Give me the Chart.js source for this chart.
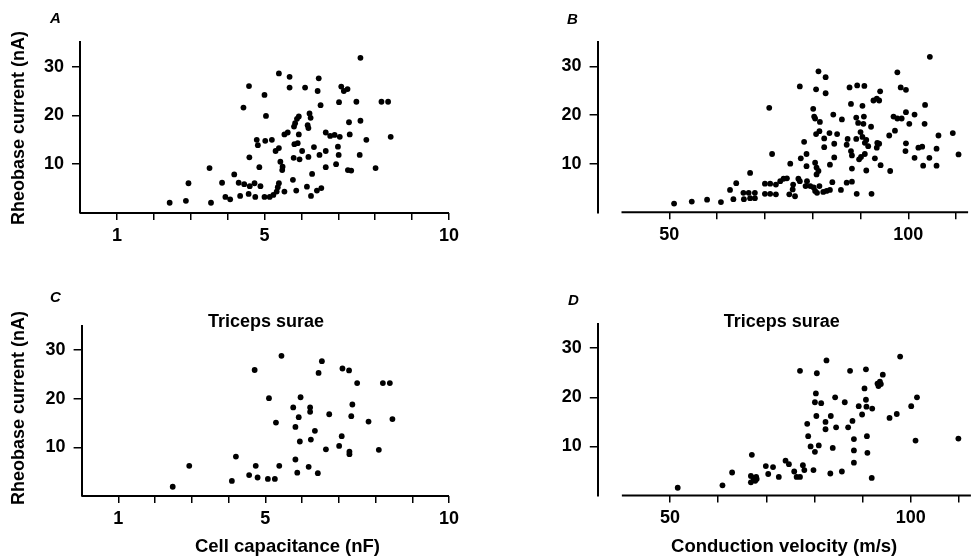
<!DOCTYPE html>
<html>
<head>
<meta charset="utf-8">
<title>Rheobase current</title>
<script src="https://cdn.jsdelivr.net/npm/chart.js@4.4.1/dist/chart.umd.min.js"></script>
<style>
  html, body { margin: 0; padding: 0; background: #fff; }
  #page {
    position: relative;
    width: 974px;
    height: 559px;
    overflow: hidden;
    font-family: "Liberation Sans", Arial, sans-serif;
    color: #000;
  }
  #page canvas { position: absolute; left: 0; top: 0; }
  .txt { position: absolute; white-space: nowrap; line-height: 1; font-weight: bold; }
</style>
</head>
<body>
<div id="page">
  <canvas id="chartA" width="974" height="559"></canvas>
  <canvas id="chartB" width="974" height="559"></canvas>
  <canvas id="chartC" width="974" height="559"></canvas>
  <canvas id="chartD" width="974" height="559"></canvas>
</div>

<script>
/* ================= DATA ================= */

// A: all cells, capacitance (nF) vs rheobase (nA)
const capA = [2.43, 2.87, 3.55, 2.94, 3.51, 3.85, 3.94, 4.07, 4.18, 4.3,
  4.45, 4.6, 4.34, 4.57, 4.59, 4.43, 4.58, 4.73, 4.75, 4.89,
  4.86, 4.79, 4.82, 5.0, 5.04, 5.02, 5.2, 5.0, 5.14, 5.24,
  5.33, 5.39, 5.36, 5.39, 5.68, 5.68, 5.3, 5.39, 5.43, 5.49,
  5.48, 5.54, 5.54, 5.63, 5.8, 5.83, 5.88, 5.93, 5.81, 5.9,
  5.79, 5.95, 5.77, 5.86, 7.6, 6.47, 6.1, 6.44, 7.08, 7.15,
  7.25, 6.52, 7.02, 7.49, 8.17, 8.35, 6.22, 6.25, 6.17, 6.19,
  5.93, 6.02, 6.19, 6.34, 6.49, 6.66, 6.66, 6.78, 6.9, 7.04,
  7.29, 7.6, 7.31, 7.76, 8.42, 6.99, 7.01, 7.58, 6.94, 6.66,
  7.26, 7.35, 8.01, 6.29, 6.15, 6.26, 6.42, 6.54];
const rheoA = [2.1, 2.5, 2.1, 6.1, 9.2, 6.2, 3.3, 2.8, 7.9, 6.2,
  5.9, 5.5, 3.5, 3.9, 11.4, 21.6, 26.0, 6.1, 3.3, 5.5,
  9.4, 15.0, 13.9, 24.2, 19.9, 14.8, 15.0, 3.3, 3.3, 3.7,
  4.4, 6.1, 5.3, 28.6, 27.9, 25.7, 12.7, 13.3, 10.5, 9.5,
  8.8, 4.4, 16.1, 16.5, 17.7, 18.4, 19.3, 19.8, 14.1, 14.3,
  11.3, 11.0, 6.8, 4.6, 31.8, 27.6, 25.7, 25.0, 25.9, 25.0,
  25.4, 22.1, 22.7, 22.8, 22.8, 22.8, 20.4, 19.5, 18.0, 17.4,
  16.1, 12.7, 11.5, 13.5, 11.9, 12.7, 16.5, 15.8, 16.0, 15.6,
  18.6, 18.9, 16.1, 15.0, 15.6, 13.6, 11.9, 11.9, 10.0, 9.4,
  8.8, 8.7, 9.2, 8.0, 5.4, 3.5, 4.6, 5.1];

// B: all cells, conduction velocity (m/s) vs rheobase (nA)
const velB = [51.0, 54.7, 57.9, 60.8, 63.4, 62.7, 64.0, 66.9, 65.5, 65.6,
  66.6, 66.9, 67.9, 67.9, 70.0, 71.1, 70.0, 71.1, 72.3, 70.9,
  71.5, 72.3, 73.2, 73.9, 74.6, 75.3, 75.9, 75.8, 75.1, 76.3,
  77.3, 78.2, 77.5, 78.7, 78.7, 77.3, 78.5, 104.5, 81.2, 82.7,
  80.7, 82.7, 87.7, 89.3, 90.8, 94.1, 92.7, 93.4, 93.9, 97.7,
  98.4, 99.5, 103.5, 80.1, 80.3, 80.5, 81.5, 84.3, 86.1, 88.0,
  90.4, 89.1, 89.5, 90.7, 90.6, 92.2, 96.9, 97.7, 98.6, 99.5,
  101.3, 100.2, 103.4, 97.2, 96.0, 106.3, 109.3, 110.5, 99.5, 99.4,
  101.3, 102.1, 102.9, 105.9, 104.4, 103.1, 105.9, 80.7, 81.4, 82.4,
  83.5, 85.1, 82.4, 84.5, 87.3, 87.1, 89.1, 90.0, 90.4, 90.9,
  91.6, 91.2, 93.5, 93.9, 93.4, 88.0, 88.2, 89.7, 90.1, 90.9,
  93.0, 94.2, 91.2, 88.2, 96.2, 84.5, 83.6, 80.5, 80.8, 81.2,
  80.8, 84.1, 87.1, 88.2, 85.9, 89.2, 92.3, 78.8, 79.5, 80.2,
  80.5, 80.9, 81.4, 82.2, 82.9, 83.6, 77.0];
const rheoB = [1.8, 2.2, 2.6, 2.1, 2.7, 4.6, 6.0, 8.1, 4.0, 2.7,
  4.0, 2.9, 4.0, 2.9, 5.9, 5.9, 3.8, 3.8, 3.7, 21.5,
  12.0, 5.7, 6.4, 6.9, 7.0, 10.0, 5.7, 4.7, 3.7, 3.3,
  25.9, 14.5, 11.1, 12.0, 9.5, 6.4, 5.4, 32.0, 29.0, 27.8,
  25.3, 24.5, 25.7, 26.1, 26.0, 24.9, 23.0, 23.4, 23.0, 28.8,
  25.7, 25.2, 22.1, 21.3, 19.7, 19.3, 18.6, 20.1, 19.1, 22.3,
  21.9, 19.5, 18.4, 19.7, 18.2, 17.6, 19.7, 19.3, 19.3, 20.6,
  20.1, 18.2, 18.2, 16.8, 15.8, 15.8, 16.3, 11.9, 14.2, 12.6,
  11.2, 13.3, 13.5, 13.1, 11.2, 9.6, 9.6, 16.1, 16.7, 15.2,
  16.3, 16.1, 13.4, 14.1, 15.1, 13.9, 15.1, 16.5, 15.5, 14.3,
  13.6, 14.9, 14.3, 14.1, 13.3, 12.6, 11.7, 10.9, 11.4, 12.0,
  11.1, 9.7, 8.6, 9.0, 8.5, 11.3, 9.8, 10.2, 9.2, 8.5,
  7.8, 6.2, 6.1, 6.3, 4.6, 3.8, 3.8, 6.4, 5.4, 5.1,
  4.4, 4.0, 5.4, 4.2, 4.4, 4.6, 6.9];

// C: triceps surae, capacitance (nF) vs rheobase (nA)
const capC = [2.48, 2.93, 4.09, 4.2, 4.56, 4.74, 4.79, 5.07, 5.26, 4.71,
  5.44, 5.1, 5.29, 5.38, 5.76, 5.96, 5.91, 5.82, 6.22, 6.22,
  6.35, 5.94, 6.24, 5.82, 5.87, 6.18, 6.43, 6.54, 6.45, 6.74,
  6.65, 7.01, 7.08, 7.1, 7.28, 7.5, 7.37, 7.34, 7.29, 7.29,
  7.81, 8.09, 8.2, 8.39, 8.46];
const rheoC = [1.9, 6.2, 3.1, 8.1, 4.3, 6.2, 3.8, 3.5, 3.5, 25.9,
  28.8, 20.1, 15.1, 6.2, 18.2, 20.3, 16.2, 14.2, 18.2, 17.3,
  13.4, 11.2, 11.6, 7.5, 4.8, 6.0, 4.7, 27.7, 25.3, 16.8,
  9.6, 10.3, 12.3, 26.2, 25.8, 23.2, 18.8, 16.4, 9.1, 8.6,
  15.3, 9.5, 23.2, 23.2, 15.8];

// D: triceps surae, conduction velocity (m/s) vs rheobase (nA)
const velD = [51.6, 60.9, 62.9, 67.0, 66.8, 67.3, 67.9, 66.8, 67.7, 68.0,
  69.9, 70.4, 71.4, 72.6, 74.0, 74.7, 75.8, 76.3, 77.0, 77.6,
  77.9, 77.0, 79.8, 78.5, 78.7, 79.2, 80.1, 80.9, 80.5, 80.3,
  80.1, 81.4, 80.4, 82.5, 83.4, 82.3, 82.3, 84.3, 84.5, 83.8,
  83.3, 86.3, 87.4, 87.9, 87.0, 88.2, 88.2, 88.2, 85.7, 89.2,
  89.9, 90.4, 90.7, 90.7, 90.8, 92.0, 90.9, 91.0, 91.9, 93.1,
  93.3, 93.6, 93.8, 94.2, 95.6, 97.1, 97.8, 100.1, 101.3, 101.0,
  109.9];
const rheoD = [1.6, 2.1, 4.7, 8.3, 4.0, 3.6, 3.8, 2.7, 3.0, 3.4,
  6.0, 4.4, 5.8, 3.8, 7.1, 6.4, 4.9, 3.8, 3.8, 6.2,
  5.2, 25.4, 5.2, 14.6, 12.1, 10.0, 8.9, 10.2, 24.9, 20.8,
  19.0, 18.8, 16.2, 27.5, 16.2, 15.0, 13.5, 20.0, 13.9, 9.7,
  4.5, 19.0, 25.4, 15.2, 13.9, 11.5, 9.2, 6.7, 4.9, 18.2,
  16.5, 21.8, 25.7, 19.5, 18.1, 17.7, 12.1, 8.7, 3.6, 22.8,
  22.3, 23.2, 22.7, 24.6, 15.8, 16.6, 28.3, 18.2, 20.0, 11.2,
  11.6];

// axes
const rheoTicks = [10, 20, 30];
const capTicks = [1, 2, 3, 4, 5, 6, 7, 8, 9, 10];
const capLabels = [1, 5, 10];
const velTicks = [50, 60, 70, 80, 90, 100, 110];
const velLabels = [50, 100];

/* ================= LAYOUT ================= */

const PAGE_W = 974;
const PAGE_H = 559;
const Y_BOX = 60;   // width given to every y scale
const X_BOX = 40;   // height given to every x scale

// chart areas in page pixels
const frames = {
  A: { left: 80, right: 449, top: 42.2, bottom: 213 },
  B: { left: 597.6, right: 968.1, top: 42.2, bottom: 212.3 },
  C: { left: 81.6, right: 449, top: 325.7, bottom: 496 },
  D: { left: 597.8, right: 970.9, top: 323.6, bottom: 495.6 }
};

const tickFont = { family: "'Liberation Sans', Arial, sans-serif", size: 18, weight: "bold" };

// draws the x axis line over only part of the scale (B and D start at 40 m/s)
const xAxisLine = {
  id: "xAxisLine",
  afterDraw(chart, args, opts) {
    const x = chart.scales.x;
    const { ctx, chartArea } = chart;
    ctx.save();
    ctx.strokeStyle = "#000";
    ctx.lineWidth = 2;
    ctx.beginPath();
    ctx.moveTo(x.getPixelForValue(opts.from), chartArea.bottom);
    ctx.lineTo(x.getPixelForValue(opts.to), chartArea.bottom);
    ctx.stroke();
    ctx.restore();
  }
};

function makePanel(id, xs, ys, frame, xs_cfg) {
  const points = xs.map((v, i) => ({ x: v, y: ys[i] }));

  return new Chart(document.getElementById(id), {
    type: "scatter",
    data: {
      datasets: [{
        data: points,
        pointRadius: 2.9,
        pointHoverRadius: 2.9,
        pointBackgroundColor: "#000",
        pointBorderWidth: 0
      }]
    },
    options: {
      responsive: false,
      animation: false,
      events: [],
      layout: {
        padding: {
          left: frame.left - Y_BOX,
          right: PAGE_W - frame.right,
          top: frame.top,
          bottom: PAGE_H - frame.bottom - X_BOX
        }
      },
      plugins: {
        legend: { display: false },
        tooltip: { enabled: false },
        xAxisLine: { from: xs_cfg.lineFrom, to: xs_cfg.max }
      },
      scales: {
        x: {
          type: "linear",
          min: xs_cfg.min,
          max: xs_cfg.max,
          afterBuildTicks: s => { s.ticks = xs_cfg.ticks.map(v => ({ value: v })); },
          afterFit: s => { s.height = X_BOX; },
          ticks: {
            autoSkip: false,
            maxRotation: 0,
            padding: 5,
            color: "#000",
            font: tickFont,
            callback: v => xs_cfg.labels.includes(v) ? String(v) : ""
          },
          grid: { drawOnChartArea: false, drawTicks: true, tickLength: 7, color: "#000", lineWidth: 1.5 },
          border: { display: false }
        },
        y: {
          type: "linear",
          min: 0,
          max: 35,
          afterBuildTicks: s => { s.ticks = rheoTicks.map(v => ({ value: v })); },
          afterFit: s => { s.width = Y_BOX; },
          ticks: { padding: 8, color: "#000", font: tickFont, callback: v => String(v) },
          grid: { drawOnChartArea: false, drawTicks: true, tickLength: 8, color: "#000", lineWidth: 1.5 },
          border: { display: true, color: "#000", width: 2 }
        }
      }
    },
    plugins: [xAxisLine]
  });
}

const capAxis = { min: 0, max: 10, lineFrom: 0, ticks: capTicks, labels: capLabels };
const velAxis = { min: 35, max: 112.5, lineFrom: 40, ticks: velTicks, labels: velLabels };

makePanel("chartA", capA, rheoA, frames.A, capAxis);
makePanel("chartB", velB, rheoB, frames.B, velAxis);
makePanel("chartC", capC, rheoC, frames.C, capAxis);
makePanel("chartD", velD, rheoD, frames.D, velAxis);

/* ================= TEXT ================= */

// x = anchor, base = baseline (rotated: baseline x, y = centre)
const texts = [
  { text: "A", x: 50, base: 23, size: 15, italic: true },
  { text: "B", x: 567, base: 24, size: 15, italic: true },
  { text: "C", x: 50, base: 302, size: 15, italic: true },
  { text: "D", x: 568, base: 305, size: 15, italic: true },
  { text: "Triceps surae", x: 266, base: 327.6, size: 18, center: true },
  { text: "Triceps surae", x: 781.7, base: 327.3, size: 18, center: true },
  { text: "Cell capacitance (nF)", x: 287.5, base: 553, size: 18.5, center: true },
  { text: "Conduction velocity (m/s)", x: 784.2, base: 553, size: 18.5, center: true },
  { text: "Rheobase current (nA)", x: 24.5, base: 127.5, size: 18, rotate: true },
  { text: "Rheobase current (nA)", x: 24.5, base: 408.3, size: 18, rotate: true }
];

const ASCENT = 0.8465; // baseline offset inside a line-height:1 box

const page = document.getElementById("page");

texts.forEach(t => {
  const el = document.createElement("div");
  el.className = "txt";
  el.textContent = t.text;
  el.style.fontSize = t.size + "px";
  if (t.italic) el.style.fontStyle = "italic";

  if (t.rotate) {
    const w = 300;
    const cx = t.x - (ASCENT - 0.5) * t.size;
    el.style.width = w + "px";
    el.style.height = t.size + "px";
    el.style.textAlign = "center";
    el.style.left = (cx - w / 2) + "px";
    el.style.top = (t.base - t.size / 2) + "px";
    el.style.transform = "rotate(-90deg)";
  } else if (t.center) {
    const w = 400;
    el.style.width = w + "px";
    el.style.textAlign = "center";
    el.style.left = (t.x - w / 2) + "px";
    el.style.top = (t.base - ASCENT * t.size) + "px";
  } else {
    el.style.left = t.x + "px";
    el.style.top = (t.base - ASCENT * t.size) + "px";
  }

  page.appendChild(el);
});
</script>
</body>
</html>
